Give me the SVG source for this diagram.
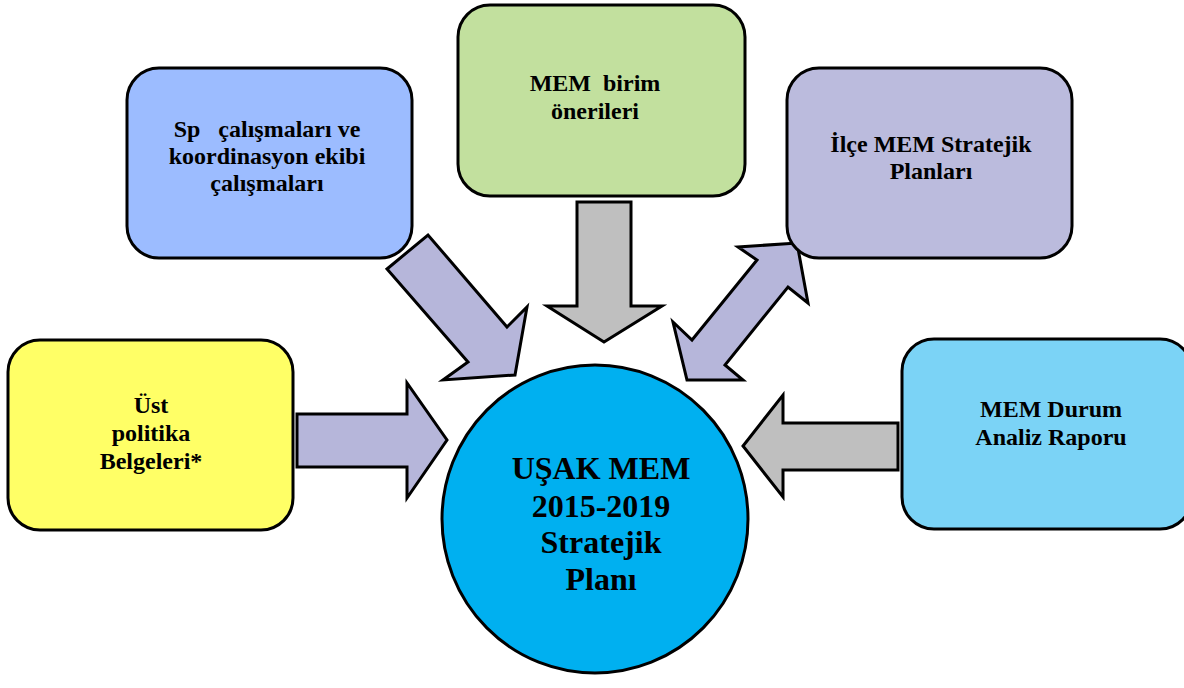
<svg xmlns="http://www.w3.org/2000/svg" width="1184" height="688" viewBox="0 0 1184 688">
<style>
.box{stroke:#000;stroke-width:3}
.arr{stroke:#000;stroke-width:3;stroke-linejoin:miter}
.lav{fill:#b6b6da}
.gry{fill:#bfbfbf}
.t{font-family:"Liberation Serif","Times New Roman",serif;font-weight:bold;font-size:24px;fill:#000;text-anchor:middle;white-space:pre}
.c{font-size:32px}
</style>
<rect width="1184" height="688" fill="#fff"/>
<g id="connectors">
<polygon class="arr lav" points="297,414 407,414 407,383 447,440 407,498 407,467 297,467"/>
<polygon class="arr gry" points="898,423 783,423 783,395 743,446 783,497 783,470 898,470"/>
<polygon class="arr gry" points="577,202 631,202 631,306 662,306 604,342 547,306 577,306"/>
<polygon class="arr lav" points="387,269 428,235 507,327 527,307 515,375 443,380 468,362"/>
<polygon class="arr lav" points="797,243 808,303 788,287 725,365 743,380 687,380 673,322 692,340 757,260 738,247"/>
</g>
<g id="node-sp">
<rect class="box" x="127" y="68" width="285" height="190" rx="32" fill="#9cbcff"/>
<text class="t" x="267" y="137">Sp   çalışmaları ve</text>
<text class="t" x="267" y="164">koordinasyon ekibi</text>
<text class="t" x="267" y="191">çalışmaları</text>
</g>
<g id="node-birim">
<rect class="box" x="458" y="5" width="287" height="191" rx="32" fill="#c2e09e"/>
<text class="t" x="595" y="91">MEM  birim</text>
<text class="t" x="595" y="119">önerileri</text>
</g>
<g id="node-ilce">
<rect class="box" x="787" y="68" width="285" height="190" rx="32" fill="#bbbbdd"/>
<text class="t" x="931" y="152">İlçe MEM Stratejik</text>
<text class="t" x="931" y="179">Planları</text>
</g>
<g id="node-ust">
<rect class="box" x="8" y="340" width="285" height="190" rx="32" fill="#ffff66"/>
<text class="t" x="151" y="413">Üst</text>
<text class="t" x="151" y="441">politika</text>
<text class="t" x="151" y="469">Belgeleri*</text>
</g>
<g id="node-durum">
<rect class="box" x="902" y="339" width="290" height="190" rx="32" fill="#7bd3f6"/>
<text class="t" x="1051" y="417">MEM Durum</text>
<text class="t" x="1051" y="445">Analiz Raporu</text>
</g>
<g id="node-center">
<ellipse class="box" cx="595" cy="519" rx="153" ry="154" fill="#00b0f0"/>
<text class="t c" x="601" y="479">UŞAK MEM</text>
<text class="t c" x="601" y="517">2015-2019</text>
<text class="t c" x="601" y="553">Stratejik</text>
<text class="t c" x="601" y="590">Planı</text>
</g>
</svg>
